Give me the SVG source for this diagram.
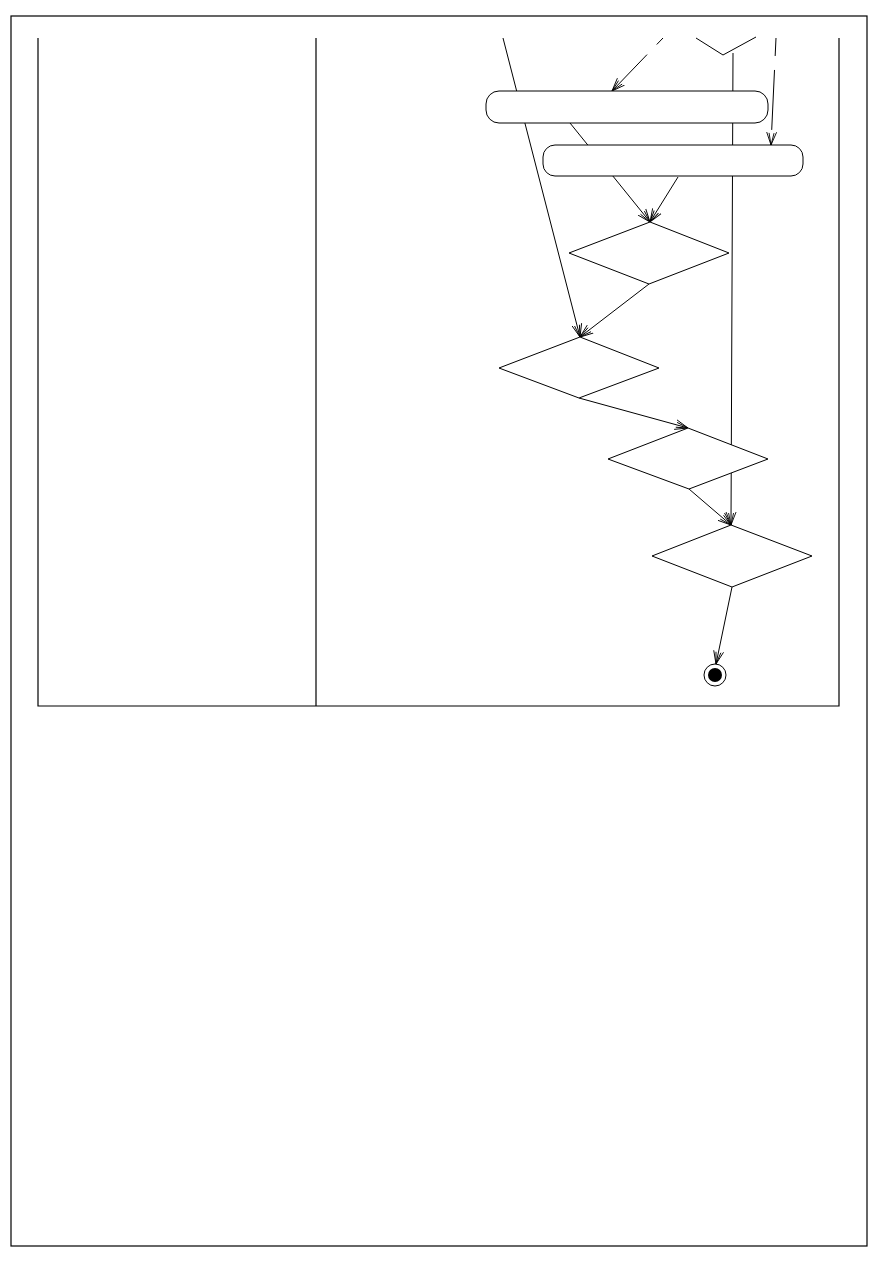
<svg xmlns="http://www.w3.org/2000/svg" width="893" height="1263" viewBox="0 0 893 1263">
<style>
.frame{fill:none;stroke:#000;stroke-width:1.2}
.lane{fill:none;stroke:#000;stroke-width:1.2}
.edge{fill:none;stroke:#000;stroke-width:1}
.dash{stroke-dasharray:60,14}
.node{fill:#fff;stroke:#000;stroke-width:1}
</style>
<defs>
<marker id="arr" viewBox="0 0 14 12" refX="13" refY="6" markerWidth="14" markerHeight="12" markerUnits="userSpaceOnUse" orient="auto">
<path d="M0,1 L13,6 L0,11 M1,3.5 L13,6 L1,8.5" fill="none" stroke="#000" stroke-width="0.9"/>
</marker>
</defs>
<rect width="893" height="1263" fill="#fff"/>
<rect class="frame" x="11" y="16" width="856" height="1230"/>
<g id="swimlanes">
<path class="lane" d="M38,38 V706 H839 V38 M316,38 V706"/>
</g>
<g id="connectors">
<line class="edge" x1="503" y1="38" x2="580" y2="337" marker-end="url(#arr)"/>
<line class="edge dash" x1="663" y1="38" x2="612" y2="91" stroke-dashoffset="51" marker-end="url(#arr)"/>
<line class="edge dash" x1="776" y1="38" x2="771" y2="145" stroke-dashoffset="42" marker-end="url(#arr)"/>
<polyline class="edge" points="696,38 723,55 756,37"/>
<line class="edge" x1="733" y1="53" x2="731" y2="525" marker-end="url(#arr)"/>
<line class="edge" x1="570" y1="123" x2="650" y2="222" marker-end="url(#arr)"/>
<line class="edge" x1="678" y1="177" x2="650" y2="222" marker-end="url(#arr)"/>
<line class="edge" x1="649" y1="284" x2="580" y2="337" marker-end="url(#arr)"/>
<line class="edge" x1="579" y1="398" x2="688" y2="428" marker-end="url(#arr)"/>
<line class="edge" x1="689" y1="489" x2="731" y2="525" marker-end="url(#arr)"/>
<line class="edge" x1="732" y1="587" x2="716" y2="664" marker-end="url(#arr)"/>
</g>
<g id="action1"><rect class="node" x="486" y="91" width="282" height="32" rx="13" ry="13"/></g>
<g id="action2"><rect class="node" x="543" y="145" width="260" height="31" rx="12" ry="12"/></g>
<g id="decision1"><polygon class="node" points="650,222 729,253 649,284 569,253"/></g>
<g id="decision2"><polygon class="node" points="580,337 659,368 579,398 499,368"/></g>
<g id="decision3"><polygon class="node" points="688,428 768,459 689,489 608,459"/></g>
<g id="decision4"><polygon class="node" points="731,525 812,556 732,587 652,556"/></g>
<g id="final">
<circle cx="715" cy="675" r="11" fill="#fff" stroke="#000" stroke-width="1"/>
<circle cx="715" cy="675" r="7" fill="#000"/>
</g>
</svg>
